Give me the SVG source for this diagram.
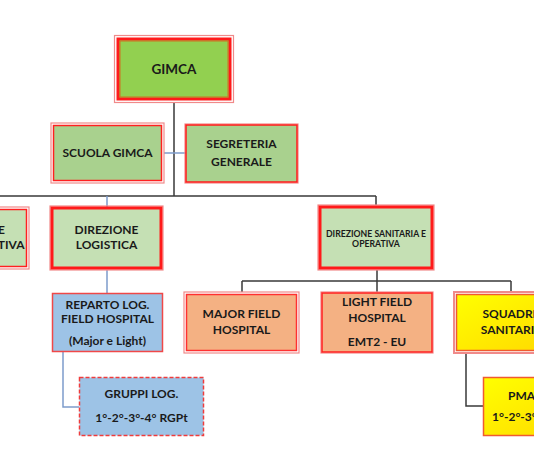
<svg xmlns="http://www.w3.org/2000/svg" width="534" height="462" viewBox="0 0 534 462">
<defs>
<linearGradient id="yel" x1="0" y1="0" x2="1" y2="1">
<stop offset="0" stop-color="#FFFF00"/>
<stop offset="1" stop-color="#FFD800"/>
</linearGradient>
<style>
text{font-family:Lato,"Liberation Sans",sans-serif;font-weight:bold;fill:#1a1a1a;text-anchor:middle;font-size:12px}
.sm{font-size:8.7px}
.st{text-anchor:start}
.gray{stroke:#3a3a3a;stroke-width:1.5;fill:none}
.blue{stroke:#7E9CCB;stroke-width:1.5;fill:none}
.halo{fill:none;stroke:#F08A8A;stroke-width:1.2}
</style>
</defs>
<rect width="534" height="462" fill="#fff"/>
<g id="connectors">
<path class="gray" d="M174 102V196M0 196H376M376 196V205"/>
<path class="blue" d="M164 153H186M107 196V207"/>
<path class="gray" d="M377 270V281M242 281H511M242 281V292M377 281V292M511 281V292"/>
<path class="blue" d="M107 270V293M63 352V407H79"/>
<path class="gray" d="M466 353V406H483"/>
</g>
<g id="gimca">
<rect x="114.5" y="35.5" width="119" height="67" class="halo"/>
<rect x="118" y="39" width="112" height="60" fill="#92D050" stroke="#FF1A1A" stroke-width="3"/>
<rect x="120" y="41" width="108" height="56" fill="none" stroke="#D07020" stroke-width="1"/>
<text x="174" y="73.5" style="font-size:13.5px">GIMCA</text>
</g>
<g id="scuola">
<rect x="51" y="123" width="113" height="60" class="halo" stroke-width="2"/>
<rect x="53.5" y="125.5" width="108" height="55" fill="#A9D18E" stroke="#FF2020" stroke-width="1.5"/>
<text x="107.5" y="157">SCUOLA GIMCA</text>
</g>
<g id="segreteria">
<rect x="185" y="124" width="113" height="59" class="halo"/>
<rect x="186" y="125" width="111" height="57" fill="#A9D18E" stroke="#FF1A1A" stroke-width="1.5"/>
<text x="241.5" y="148">SEGRETERIA</text>
<text x="241.5" y="166">GENERALE</text>
</g>
<g id="dir-amministrativa">
<rect x="-84" y="207" width="113" height="62" class="halo" stroke-width="2"/>
<rect x="-82" y="209.5" width="108.5" height="57" fill="#C5E0B4" stroke="#FF2020" stroke-width="1.5"/>
<text x="-27" y="234">DIREZIONE</text>
<text x="-27" y="249">AMMINISTRATIVA</text>
</g>
<g id="dir-logistica">
<rect x="50" y="206" width="113" height="64" class="halo"/>
<rect x="52" y="208" width="109" height="60" fill="#C5E0B4" stroke="#FF1A1A" stroke-width="3"/>
<text x="106.5" y="234">DIREZIONE</text>
<text x="106.5" y="249">LOGISTICA</text>
</g>
<g id="dir-sanitaria">
<rect x="318" y="205" width="116" height="65" class="halo"/>
<rect x="320" y="207" width="112" height="61" fill="#C5E0B4" stroke="#FF1A1A" stroke-width="3"/>
<text x="376" y="236.5" class="sm">DIREZIONE SANITARIA E</text>
<text x="376" y="247" class="sm">OPERATIVA</text>
</g>
<g id="reparto">
<rect x="52.5" y="293.5" width="110" height="58" fill="#9DC3E6" stroke="#F04848" stroke-width="1.5"/>
<text x="107.5" y="309">REPARTO LOG.</text>
<text x="107.5" y="323">FIELD HOSPITAL</text>
<text x="107.5" y="345">(Major e Light)</text>
</g>
<g id="major">
<rect x="184" y="292" width="115" height="61" class="halo" stroke-width="2"/>
<rect x="186.5" y="294.5" width="110" height="56" fill="#F4B183" stroke="#FF3030" stroke-width="1.5"/>
<text x="241.5" y="318">MAJOR FIELD</text>
<text x="241.5" y="334">HOSPITAL</text>
</g>
<g id="light">
<rect x="321" y="292" width="112" height="61" class="halo"/>
<rect x="322" y="293" width="110" height="59" fill="#F4B183" stroke="#FF2020" stroke-width="1.5"/>
<text x="377" y="306">LIGHT FIELD</text>
<text x="377" y="322">HOSPITAL</text>
<text x="377" y="346">EMT2 - EU</text>
</g>
<g id="squadre">
<rect x="454" y="292" width="115" height="61" fill="none" stroke="#F08A8A" stroke-width="2"/>
<rect x="456.5" y="294.5" width="110" height="56" fill="url(#yel)" stroke="#F05A30" stroke-width="1.5"/>
<text x="511" y="318">SQUADRE</text>
<text x="511" y="334">SANITARIE</text>
</g>
<g id="gruppi">
<rect x="79.5" y="377.5" width="124" height="58" fill="#9DC3E6" stroke="#F03C3C" stroke-width="1.5" stroke-dasharray="4 2"/>
<text x="141.5" y="398">GRUPPI LOG.</text>
<text x="141.5" y="422">1°-2°-3°-4° RGPt</text>
</g>
<g id="pma">
<rect x="483.5" y="377.5" width="110" height="58" fill="url(#yel)" stroke="#F05A30" stroke-width="1.5"/>
<text x="508" y="400" class="st">PMA</text>
<text x="492" y="421" class="st">1°-2°-3°-4°</text>
</g>
</svg>
